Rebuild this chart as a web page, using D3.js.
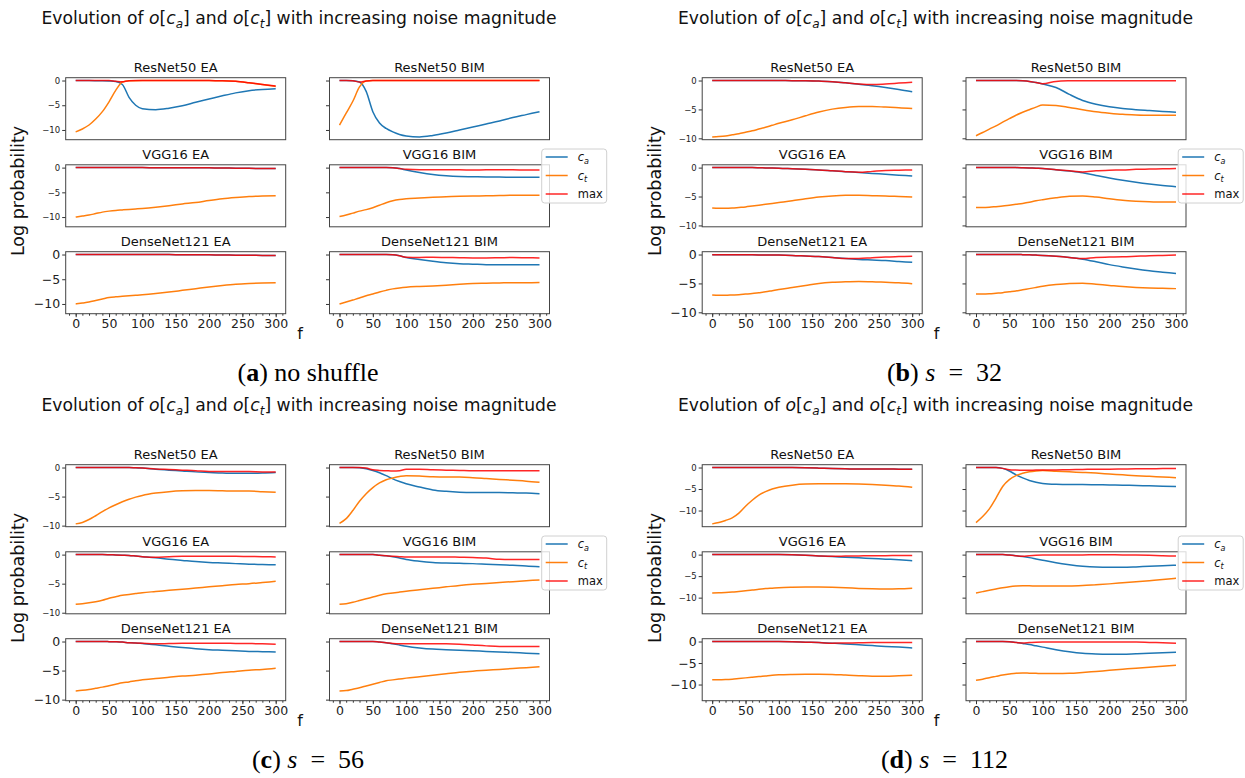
<!DOCTYPE html>
<html>
<head>
<meta charset="utf-8">
<script src="https://cdn.jsdelivr.net/npm/d3@7"></script>
<style>
body { margin: 0; background: #fff; }
svg { display: block; font-family: "DejaVu Sans", sans-serif; }
</style>
</head>
<body>
<div id="chart"></div>
<script>
// noise magnitude f sampled for every curve
const noiseSteps = [0, 10, 20, 30, 40, 50, 60, 70, 80, 90, 100, 120, 140, 160, 180, 200, 220, 240, 260, 280, 300];
const models = ['ResNet50', 'VGG16', 'DenseNet121'];
const attacks = ['EA', 'BIM'];
const xTicks = [0, 50, 100, 150, 200, 250, 300];
const yTicks = [0, -5, -10];
const seriesNames = ['ca', 'ct', 'max'];

// rows: ResNet50 EA, ResNet50 BIM, VGG16 EA, VGG16 BIM, DenseNet121 EA, DenseNet121 BIM
const noShuffleCa = [
  [0,-0.01,-0.02,-0.03,-0.05,-0.1,-0.2,-0.8,-3.4,-5.0,-5.7,-5.9,-5.6,-5.1,-4.4,-3.75,-3.1,-2.5,-2.05,-1.8,-1.65],
  [0,-0.01,-0.05,-0.3,-2.2,-6.3,-8.6,-9.7,-10.4,-10.9,-11.2,-11.4,-11.1,-10.6,-10.0,-9.4,-8.8,-8.2,-7.5,-6.9,-6.3],
  [0,0,0,0,0,0,0,0,0,0,0,-0.01,-0.02,-0.03,-0.04,-0.05,-0.08,-0.12,-0.15,-0.18,-0.2],
  [0,0,0,0,0,0,0,0,-0.05,-0.2,-0.5,-1.0,-1.4,-1.65,-1.8,-1.85,-1.9,-1.9,-1.95,-1.95,-1.95],
  [0,0,0,0,0,0,0,0,0,0,0,-0.01,-0.02,-0.03,-0.05,-0.07,-0.1,-0.13,-0.16,-0.18,-0.2],
  [0,0,0,0,0,0,0,0,-0.05,-0.25,-0.6,-1.0,-1.35,-1.65,-1.85,-1.95,-2.05,-2.05,-2.05,-2.05,-2.05]
];
const noShuffleCt = [
  [-10.4,-9.8,-9.0,-7.8,-6.3,-4.3,-2.0,-0.3,-0.05,-0.03,-0.02,-0.02,-0.02,-0.02,-0.02,-0.02,-0.03,-0.15,-0.45,-0.8,-1.2],
  [-9.0,-6.6,-4.2,-1.3,-0.1,-0.02,-0.02,-0.02,-0.02,-0.02,-0.02,-0.02,-0.02,-0.02,-0.02,-0.02,-0.02,-0.02,-0.02,-0.02,-0.02],
  [-10.0,-9.8,-9.6,-9.3,-9.0,-8.8,-8.65,-8.55,-8.45,-8.35,-8.25,-8.0,-7.7,-7.35,-7.05,-6.65,-6.3,-6.05,-5.85,-5.75,-5.7],
  [-9.9,-9.6,-9.2,-8.8,-8.5,-8.1,-7.6,-7.1,-6.7,-6.45,-6.3,-6.15,-6.0,-5.9,-5.8,-5.75,-5.7,-5.65,-5.6,-5.6,-5.6],
  [-10.0,-9.8,-9.6,-9.3,-9.0,-8.7,-8.55,-8.45,-8.35,-8.25,-8.15,-7.9,-7.6,-7.25,-6.9,-6.55,-6.25,-6.0,-5.85,-5.75,-5.7],
  [-10.0,-9.6,-9.2,-8.8,-8.35,-8.0,-7.6,-7.25,-6.95,-6.75,-6.6,-6.45,-6.35,-6.2,-6.0,-5.85,-5.8,-5.75,-5.7,-5.7,-5.65]
];
const noShuffleMax = [
  [0,0,0,0,0,-0.02,-0.15,-0.25,-0.03,-0.02,-0.02,-0.02,-0.02,-0.02,-0.02,-0.02,-0.03,-0.15,-0.45,-0.8,-1.1],
  [0,-0.01,-0.05,-0.3,-0.1,-0.02,-0.02,-0.02,-0.02,-0.02,-0.02,-0.02,-0.02,-0.02,-0.02,-0.02,-0.02,-0.02,-0.02,-0.02,-0.02],
  [0,0,0,0,0,0,0,0,0,0,0,-0.01,-0.02,-0.03,-0.04,-0.05,-0.08,-0.12,-0.15,-0.18,-0.2],
  [0,0,0,0,0,0,0,0,-0.05,-0.2,-0.35,-0.45,-0.45,-0.45,-0.45,-0.5,-0.45,-0.45,-0.45,-0.5,-0.5],
  [0,0,0,0,0,0,0,0,0,0,0,-0.01,-0.02,-0.03,-0.05,-0.07,-0.1,-0.13,-0.16,-0.18,-0.2],
  [0,0,0,0,0,0,0,0,-0.05,-0.25,-0.55,-0.6,-0.55,-0.6,-0.65,-0.7,-0.7,-0.65,-0.6,-0.65,-0.7]
];

const s32Ca = [
  [0,0,0,0,0,0,0,0,0,0,-0.01,-0.02,-0.03,-0.1,-0.2,-0.4,-0.65,-0.9,-1.2,-1.55,-1.95],
  [0,0,0,0,0,0,0,-0.05,-0.15,-0.35,-0.6,-1.2,-2.4,-3.45,-4.1,-4.55,-4.85,-5.05,-5.2,-5.35,-5.5],
  [0,0,0,0,0,0,0,-0.02,-0.05,-0.07,-0.1,-0.2,-0.3,-0.4,-0.55,-0.7,-0.85,-1.0,-1.15,-1.3,-1.45],
  [0,0,0,0,0,0,0,-0.02,-0.05,-0.1,-0.15,-0.35,-0.6,-0.9,-1.35,-1.8,-2.2,-2.55,-2.85,-3.1,-3.3],
  [-0.05,-0.05,-0.05,-0.05,-0.05,-0.05,-0.06,-0.07,-0.08,-0.09,-0.1,-0.15,-0.25,-0.35,-0.5,-0.7,-0.85,-0.95,-1.05,-1.2,-1.35],
  [0,0,0,0,0,0,0,-0.02,-0.05,-0.1,-0.15,-0.3,-0.5,-0.8,-1.25,-1.75,-2.15,-2.5,-2.8,-3.05,-3.3]
];
const s32Ct = [
  [-9.75,-9.7,-9.6,-9.4,-9.2,-8.95,-8.7,-8.4,-8.1,-7.75,-7.4,-6.8,-6.1,-5.45,-4.95,-4.65,-4.5,-4.5,-4.6,-4.7,-4.85],
  [-9.55,-9.0,-8.4,-7.85,-7.2,-6.6,-6.0,-5.5,-5.05,-4.6,-4.25,-4.3,-4.65,-5.05,-5.4,-5.65,-5.85,-5.95,-6.0,-6.0,-6.0],
  [-7.0,-7.05,-7.05,-7.0,-6.9,-6.8,-6.65,-6.5,-6.35,-6.2,-6.05,-5.75,-5.4,-5.1,-4.9,-4.8,-4.8,-4.85,-4.9,-5.0,-5.1],
  [-6.9,-6.9,-6.85,-6.75,-6.65,-6.5,-6.35,-6.2,-6.0,-5.75,-5.55,-5.2,-4.95,-4.9,-5.1,-5.4,-5.65,-5.8,-5.9,-5.95,-5.95],
  [-7.0,-7.05,-7.05,-7.0,-6.95,-6.85,-6.75,-6.6,-6.45,-6.25,-6.05,-5.7,-5.35,-5.0,-4.8,-4.7,-4.65,-4.7,-4.8,-4.9,-5.05],
  [-6.85,-6.85,-6.8,-6.7,-6.6,-6.45,-6.3,-6.1,-5.9,-5.7,-5.5,-5.2,-5.0,-4.95,-5.15,-5.35,-5.55,-5.7,-5.8,-5.85,-5.9]
];
const s32Max = [
  [0,0,0,0,0,0,0,0,0,0,-0.01,-0.02,-0.03,-0.1,-0.2,-0.4,-0.6,-0.7,-0.6,-0.45,-0.3],
  [0,0,0,0,0,0,0,-0.05,-0.15,-0.35,-0.55,-0.15,-0.05,-0.02,-0.02,-0.02,-0.02,-0.02,-0.02,-0.02,-0.02],
  [0,0,0,0,0,0,0,-0.02,-0.05,-0.07,-0.1,-0.2,-0.3,-0.4,-0.55,-0.7,-0.8,-0.65,-0.5,-0.45,-0.4],
  [0,0,0,0,0,0,0,-0.02,-0.05,-0.1,-0.15,-0.35,-0.55,-0.75,-0.55,-0.45,-0.4,-0.3,-0.25,-0.2,-0.15],
  [-0.05,-0.05,-0.05,-0.05,-0.05,-0.05,-0.06,-0.07,-0.08,-0.09,-0.1,-0.15,-0.25,-0.35,-0.5,-0.7,-0.7,-0.55,-0.45,-0.35,-0.3],
  [0,0,0,0,0,0,0,-0.02,-0.05,-0.1,-0.15,-0.3,-0.5,-0.7,-0.5,-0.45,-0.4,-0.3,-0.2,-0.15,-0.1]
];

const s56Ca = [
  [0,0,0,0,0,0,0,0,0,-0.05,-0.1,-0.3,-0.45,-0.6,-0.75,-0.85,-0.95,-1.0,-1.0,-0.95,-0.85],
  [0,0,0,-0.05,-0.2,-0.5,-0.9,-1.4,-1.95,-2.4,-2.8,-3.35,-3.85,-4.1,-4.25,-4.3,-4.3,-4.3,-4.35,-4.4,-4.5],
  [0,0,0,0,0,-0.02,-0.05,-0.1,-0.15,-0.25,-0.35,-0.55,-0.8,-1.0,-1.2,-1.35,-1.45,-1.55,-1.65,-1.7,-1.75],
  [0,0,0,0,0,0,-0.1,-0.2,-0.35,-0.6,-0.85,-1.15,-1.35,-1.45,-1.5,-1.55,-1.65,-1.75,-1.85,-1.95,-2.1],
  [0,0,0,0,0,-0.02,-0.05,-0.1,-0.2,-0.25,-0.35,-0.55,-0.8,-1.05,-1.25,-1.4,-1.5,-1.6,-1.7,-1.75,-1.8],
  [0,0,0,0,0,0,-0.1,-0.2,-0.4,-0.6,-0.8,-1.1,-1.3,-1.4,-1.5,-1.6,-1.7,-1.8,-1.9,-2.0,-2.1]
];
const s56Ct = [
  [-9.7,-9.45,-8.95,-8.3,-7.6,-6.95,-6.4,-5.9,-5.45,-5.1,-4.8,-4.4,-4.15,-4.0,-3.95,-3.95,-4.0,-4.05,-4.05,-4.15,-4.25],
  [-9.6,-8.8,-7.4,-5.8,-4.5,-3.45,-2.65,-2.1,-1.8,-1.55,-1.4,-1.45,-1.6,-1.65,-1.65,-1.75,-1.9,-2.05,-2.2,-2.35,-2.55],
  [-8.55,-8.45,-8.3,-8.1,-7.85,-7.5,-7.25,-7.0,-6.85,-6.7,-6.55,-6.35,-6.15,-5.95,-5.75,-5.55,-5.35,-5.15,-5.0,-4.8,-4.6],
  [-8.55,-8.45,-8.2,-7.9,-7.6,-7.3,-7.0,-6.75,-6.6,-6.45,-6.3,-6.05,-5.8,-5.55,-5.3,-5.1,-4.95,-4.8,-4.65,-4.5,-4.35],
  [-8.5,-8.4,-8.25,-8.05,-7.85,-7.6,-7.35,-7.1,-6.95,-6.75,-6.6,-6.35,-6.15,-5.95,-5.8,-5.6,-5.35,-5.15,-4.95,-4.8,-4.6],
  [-8.5,-8.45,-8.2,-7.95,-7.65,-7.35,-7.05,-6.75,-6.6,-6.45,-6.3,-6.05,-5.8,-5.55,-5.3,-5.1,-4.95,-4.8,-4.65,-4.5,-4.35]
];
const s56Max = [
  [0,0,0,0,0,0,0,0,0,-0.05,-0.1,-0.25,-0.35,-0.45,-0.55,-0.7,-0.7,-0.7,-0.7,-0.75,-0.75],
  [0,0,0,0,-0.1,-0.4,-0.5,-0.55,-0.6,-0.55,-0.3,-0.3,-0.4,-0.45,-0.5,-0.55,-0.55,-0.55,-0.55,-0.55,-0.55],
  [0,0,0,0,0,-0.02,-0.05,-0.1,-0.15,-0.25,-0.35,-0.45,-0.35,-0.3,-0.3,-0.3,-0.3,-0.3,-0.32,-0.35,-0.4],
  [0,0,0,0,0,0,-0.1,-0.2,-0.3,-0.35,-0.4,-0.4,-0.4,-0.4,-0.45,-0.5,-0.6,-0.8,-0.85,-0.85,-0.85],
  [0,0,0,0,0,-0.02,-0.05,-0.1,-0.2,-0.25,-0.3,-0.4,-0.35,-0.3,-0.3,-0.3,-0.3,-0.32,-0.35,-0.4,-0.45],
  [0,0,0,0,0,0,-0.1,-0.2,-0.35,-0.4,-0.4,-0.4,-0.4,-0.4,-0.45,-0.6,-0.75,-0.85,-0.85,-0.85,-0.85]
];

const s112Ca = [
  [0,0,0,0,0,0,0,0,0,0,0,0,-0.05,-0.15,-0.25,-0.3,-0.35,-0.35,-0.35,-0.38,-0.4],
  [0,0,0,0,-0.2,-0.8,-1.7,-2.4,-3.0,-3.4,-3.7,-3.9,-3.95,-3.95,-4.0,-4.05,-4.1,-4.2,-4.25,-4.35,-4.4],
  [0,0,0,0,0,0,0,0,0,0,0,-0.05,-0.15,-0.3,-0.45,-0.6,-0.75,-0.9,-1.05,-1.2,-1.4],
  [0,0,0,0,0,-0.1,-0.25,-0.45,-0.7,-1.0,-1.3,-1.9,-2.35,-2.7,-2.9,-2.95,-2.95,-2.85,-2.7,-2.6,-2.45],
  [0,0,0,0,0,0,0,0,0,0,0,-0.05,-0.15,-0.25,-0.4,-0.55,-0.75,-0.95,-1.15,-1.3,-1.5],
  [0,0,0,0,0,-0.05,-0.2,-0.45,-0.7,-1.0,-1.3,-1.9,-2.4,-2.75,-2.9,-2.95,-2.95,-2.85,-2.75,-2.6,-2.5]
];
const s112Ct = [
  [-13.1,-12.8,-12.3,-11.7,-10.6,-9.0,-7.6,-6.4,-5.6,-5.0,-4.6,-4.1,-3.85,-3.8,-3.8,-3.8,-3.85,-3.95,-4.1,-4.3,-4.6],
  [-12.8,-11.4,-9.6,-7.1,-4.4,-2.8,-1.9,-1.35,-1.0,-0.8,-0.7,-0.85,-1.0,-1.15,-1.3,-1.5,-1.7,-1.9,-2.05,-2.2,-2.35],
  [-8.9,-8.85,-8.8,-8.7,-8.55,-8.4,-8.25,-8.05,-7.9,-7.8,-7.7,-7.6,-7.55,-7.55,-7.6,-7.7,-7.85,-7.95,-8.0,-7.95,-7.8],
  [-8.9,-8.6,-8.3,-8.0,-7.7,-7.45,-7.3,-7.25,-7.25,-7.3,-7.3,-7.3,-7.3,-7.2,-7.0,-6.8,-6.55,-6.3,-6.05,-5.8,-5.5],
  [-8.9,-8.9,-8.85,-8.75,-8.6,-8.45,-8.3,-8.15,-8.0,-7.85,-7.75,-7.65,-7.6,-7.6,-7.65,-7.8,-7.95,-8.05,-8.05,-7.95,-7.85],
  [-9.0,-8.75,-8.4,-8.1,-7.8,-7.55,-7.35,-7.3,-7.35,-7.4,-7.45,-7.45,-7.4,-7.2,-6.95,-6.7,-6.45,-6.2,-6.0,-5.75,-5.5]
];
const s112Max = [
  [0,0,0,0,0,0,0,0,0,0,0,0,-0.05,-0.15,-0.25,-0.3,-0.35,-0.35,-0.35,-0.38,-0.4],
  [0,0,0,0,-0.2,-0.5,-0.6,-0.65,-0.65,-0.6,-0.6,-0.55,-0.5,-0.45,-0.4,-0.4,-0.35,-0.3,-0.3,-0.25,-0.25],
  [0,0,0,0,0,0,0,0,0,0,0,-0.05,-0.15,-0.3,-0.4,-0.35,-0.3,-0.25,-0.25,-0.2,-0.2],
  [0,0,0,0,0,-0.1,-0.25,-0.4,-0.25,-0.15,-0.1,-0.1,-0.08,-0.06,-0.05,-0.05,-0.07,-0.1,-0.15,-0.25,-0.35],
  [0,0,0,0,0,0,0,0,0,0,0,-0.05,-0.15,-0.25,-0.4,-0.35,-0.3,-0.25,-0.25,-0.25,-0.25],
  [0,0,0,0,0,-0.05,-0.2,-0.35,-0.25,-0.15,-0.1,-0.1,-0.1,-0.1,-0.1,-0.1,-0.1,-0.1,-0.2,-0.3,-0.4]
];

const captionLetters = ['a', 'b', 'c', 'd'];
const captionTexts = [
  [{ t: 'no shuffle' }],
  [{ t: 's', it: 1 }, { t: '\u2002=\u200232' }],
  [{ t: 's', it: 1 }, { t: '\u2002=\u200256' }],
  [{ t: 's', it: 1 }, { t: '\u2002=\u2002112' }]
];

const panels = [
  { ca: noShuffleCa, ct: noShuffleCt, mx: noShuffleMax },
  { ca: s32Ca, ct: s32Ct, mx: s32Max },
  { ca: s56Ca, ct: s56Ct, mx: s56Max },
  { ca: s112Ca, ct: s112Ct, mx: s112Max }
];

const W = 1245, H = 778;
const colors = ['#1f77b4', '#ff7f0e', '#ff0000'];
const panelOrigins = [[0, 0], [636.5, 0], [0, 387], [636.5, 387]];
const colX = [65.7, 329.5], boxW = 220;
const rowY = [77.7, 164.8, 251.7], boxH = 62;

const svg = d3.select('#chart').append('svg')
    .attr('width', W)
    .attr('height', H);

svg.append('rect').attr('width', W).attr('height', H).attr('fill', '#fff');

// writes text pieces with italic / bold / subscript parts
function richText(sel, segs, size) {
    let shifted = false;
    segs.forEach(s => {
        const t = sel.append('tspan').text(s.t);
        if (s.it) t.attr('font-style', 'italic');
        if (s.b) t.attr('font-weight', 'bold');
        if (s.sub) {
            t.attr('font-size', size * 0.7).attr('dy', size * 0.22);
            shifted = true;
        } else if (shifted) {
            t.attr('dy', -size * 0.22);
            shifted = false;
        }
    });
}

const titleSegs = [
    { t: 'Evolution of ' }, { t: 'o', it: 1 }, { t: '[' }, { t: 'c', it: 1 }, { t: 'a', it: 1, sub: 1 },
    { t: '] and ' }, { t: 'o', it: 1 }, { t: '[' }, { t: 'c', it: 1 }, { t: 't', it: 1, sub: 1 },
    { t: '] with increasing noise magnitude' }
];

const fmt = d => d === 0 ? '0' : '\u2212' + Math.abs(d);

panels.forEach((p, pi) => {
    const [ox, oy] = panelOrigins[pi];
    const g = svg.append('g').attr('transform', `translate(${ox},${oy})`);

    // shared y range for the 6 subplots, padded like matplotlib
    const all = [].concat(...p.ca, ...p.ct, ...p.mx);
    const lo = d3.min(all), hi = d3.max(all);
    const pad = (hi - lo) * 0.05;
    const yDomain = [lo - pad, hi + pad];

    g.append('text')
        .attr('x', 299).attr('y', 24)
        .attr('text-anchor', 'middle')
        .attr('font-size', 17.2)
        .attr('fill', '#111')
        .call(t => richText(t, titleSegs, 17.2));

    for (let i = 0; i < 6; i++) {
        const row = Math.floor(i / 2), col = i % 2;
        const x = d3.scaleLinear().domain([-15, 315]).range([colX[col], colX[col] + boxW]);
        const y = d3.scaleLinear().domain(yDomain).range([rowY[row] + boxH, rowY[row]]);
        const sub = g.append('g');

        sub.append('text')
            .attr('x', colX[col] + boxW / 2)
            .attr('y', rowY[row] - 6)
            .attr('text-anchor', 'middle')
            .attr('font-size', 13)
            .attr('fill', '#111')
            .text(models[row] + ' ' + attacks[col]);

        const yAxis = sub.append('g')
            .attr('transform', `translate(${colX[col]},0)`)
            .call(d3.axisLeft(y).tickValues(yTicks).tickSize(3.5).tickPadding(2)
                .tickFormat(col === 0 ? fmt : ''));
        yAxis.select('.domain').remove();
        yAxis.selectAll('line').attr('stroke', '#333');
        yAxis.selectAll('text')
            .attr('font-family', '"DejaVu Sans", sans-serif')
            .attr('font-size', row < 2 ? 8.5 : 12.5)
            .attr('fill', '#222');

        if (row === 2) {
            const minor = sub.append('g')
                .attr('transform', `translate(0,${rowY[row] + boxH})`)
                .call(d3.axisBottom(x).tickValues(d3.range(-10, 311, 10)).tickSize(2).tickFormat(''));
            minor.select('.domain').remove();
            minor.selectAll('line').attr('stroke', '#333');

            const xAxis = sub.append('g')
                .attr('transform', `translate(0,${rowY[row] + boxH})`)
                .call(d3.axisBottom(x).tickValues(xTicks).tickSize(3.5).tickPadding(2));
            xAxis.select('.domain').remove();
            xAxis.selectAll('line').attr('stroke', '#333');
            xAxis.selectAll('text')
                .attr('font-family', '"DejaVu Sans", sans-serif')
                .attr('font-size', 12.5)
                .attr('fill', '#222');
        }

        const line = d3.line()
            .x((d, k) => x(noiseSteps[k]))
            .y(d => y(d))
            .curve(d3.curveMonotoneX);

        [p.ca[i], p.ct[i], p.mx[i]].forEach((vals, si) => {
            sub.append('path')
                .datum(vals)
                .attr('class', 'line-' + seriesNames[si])
                .attr('d', line)
                .attr('fill', 'none')
                .attr('stroke', colors[si])
                .attr('stroke-opacity', si === 2 ? 0.85 : 1)
                .attr('stroke-width', 1.5);
        });

        sub.append('rect')
            .attr('x', colX[col]).attr('y', rowY[row])
            .attr('width', boxW).attr('height', boxH)
            .attr('fill', 'none')
            .attr('stroke', '#444')
            .attr('stroke-width', 1);
    }

    // legend
    const lg = g.append('g').attr('transform', 'translate(541.7,149)');
    lg.append('rect')
        .attr('width', 65).attr('height', 54)
        .attr('rx', 3)
        .attr('fill', '#fff').attr('fill-opacity', 0.8)
        .attr('stroke', '#d0d0d0');
    const legendLabels = [
        [{ t: 'c', it: 1 }, { t: 'a', it: 1, sub: 1 }],
        [{ t: 'c', it: 1 }, { t: 't', it: 1, sub: 1 }],
        [{ t: 'max' }]
    ];
    legendLabels.forEach((lab, k) => {
        const ly = 8 + k * 18.5;
        lg.append('line')
            .attr('x1', 4).attr('x2', 26)
            .attr('y1', ly).attr('y2', ly)
            .attr('stroke', colors[k])
            .attr('stroke-opacity', k === 2 ? 0.85 : 1)
            .attr('stroke-width', 1.5);
        lg.append('text')
            .attr('x', 36).attr('y', ly + 4)
            .attr('font-size', 11.5)
            .attr('fill', '#111')
            .call(t => richText(t, lab, 11.5));
    });

    g.append('text')
        .attr('transform', 'translate(24,191) rotate(-90)')
        .attr('text-anchor', 'middle')
        .attr('font-size', 17.5)
        .attr('fill', '#111')
        .text('Log probability');

    g.append('text')
        .attr('x', 300).attr('y', 339)
        .attr('text-anchor', 'middle')
        .attr('font-size', 16)
        .attr('fill', '#111')
        .text('f');

    const cap = g.append('text')
        .attr('x', 308).attr('y', 381)
        .attr('text-anchor', 'middle')
        .attr('font-family', '"Liberation Serif", serif')
        .attr('font-size', 26)
        .attr('fill', '#000');
    richText(cap, [{ t: '(' }, { t: captionLetters[pi], b: 1 }, { t: ') ' }].concat(captionTexts[pi]), 26);
});
</script>
</body>
</html>
